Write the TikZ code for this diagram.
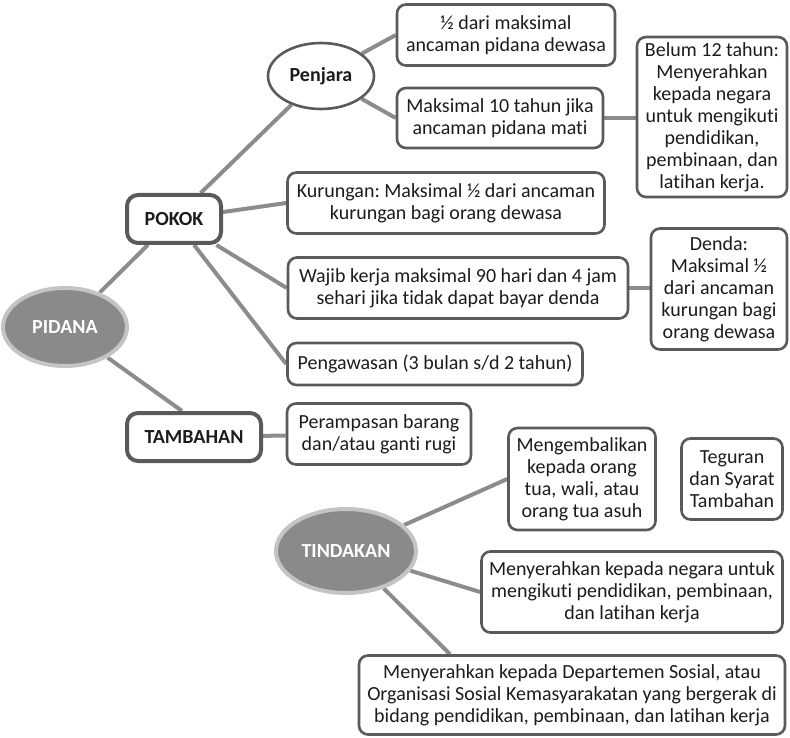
\documentclass[tikz,border=0pt]{standalone}
\usepackage{fontspec}
\setmainfont{Carlito}[Ligatures=CommonOff]
\usetikzlibrary{shapes.geometric,backgrounds}
\frenchspacing

\definecolor{edgegray}{HTML}{8C8C8C}
\definecolor{framegray}{HTML}{5A5A5A}
\definecolor{hubfill}{HTML}{8A8A8A}
\definecolor{hubring}{HTML}{C4C4C4}
\definecolor{ink}{HTML}{1C1C1C}

\tikzset{
  sz/.style 2 args={minimum width=#1pt, minimum height=#2pt},
  txt/.style={font=\fontsize{20}{22}\selectfont, text=ink, align=center},
  leaf/.style={txt, draw=framegray, line width=2.6pt, rounded corners=9pt,
    fill=white, inner sep=0pt},
  branch/.style={leaf, line width=4pt, rounded corners=11pt,
    font=\fontsize{20}{23}\selectfont\bfseries},
  hub/.style={ellipse, fill=hubfill, draw=hubring, line width=4pt,
    text=white, font=\fontsize{20}{23}\selectfont\bfseries, inner sep=0pt},
  subhub/.style={ellipse, fill=white, draw=framegray, line width=2.6pt,
    text=ink, font=\fontsize{20}{23}\selectfont\bfseries, inner sep=0pt},
  link/.style={draw=edgegray, line width=4pt},
}

\begin{document}
\begin{tikzpicture}[x=1pt, y=-1pt]
\useasboundingbox (0,0) rectangle (790,738);

% main categories
\node[hub, sz={124}{78}] (pidana) at (65,327) {PIDANA};
\node[branch, sz={94}{48}] (pokok) at (174,219) {POKOK};
\node[branch, sz={134}{48}] (tambahan) at (194,437) {TAMBAHAN};
\node[hub, sz={140}{84}] (tindakan) at (346,551) {TINDAKAN};

% pidana pokok
\node[subhub, sz={106}{66}] (penjara) at (321,76) {Penjara};
\node[leaf, sz={218}{61}] (half) at (506,35) {½ dari maksimal\\ancaman pidana dewasa};
\node[leaf, sz={206}{60}] (maks) at (500,118) {Maksimal 10 tahun jika\\ancaman pidana mati};
\node[leaf, sz={150}{160}] (belum) at (712,117) {Belum 12 tahun:\\Menyerahkan\\kepada negara\\untuk mengikuti\\pendidikan,\\pembinaan, dan\\latihan kerja.};
\node[leaf, sz={317}{61}] (kurungan) at (446,203) {Kurungan: Maksimal ½ dari ancaman\\kurungan bagi orang dewasa};
\node[leaf, sz={340}{61}] (wajib) at (458,288) {Wajib kerja maksimal 90 hari dan 4 jam\\sehari jika tidak dapat bayar denda};
\node[leaf, sz={136}{121}] (denda) at (719,289) {Denda:\\Maksimal ½\\dari ancaman\\kurungan bagi\\orang dewasa};
\node[leaf, sz={295}{42}] (awas) at (435,364) {Pengawasan (3 bulan s/d 2 tahun)};

% pidana tambahan
\node[leaf, sz={184}{61}] (rampas) at (379,434) {Perampasan barang\\dan/atau ganti rugi};

% tindakan
\node[leaf, sz={147}{102}] (kembali) at (582,479) {Mengembalikan\\kepada orang\\tua, wali, atau\\orang tua asuh};
\node[leaf, sz={101}{81}] (teguran) at (732,479) {Teguran\\dan Syarat\\Tambahan};
\node[leaf, sz={301}{81}] (negara) at (632,592) {Menyerahkan kepada negara untuk\\mengikuti pendidikan, pembinaan,\\dan latihan kerja};
\node[leaf, sz={426}{79}] (sosial) at (572,695) {Menyerahkan kepada Departemen Sosial, atau\\Organisasi Sosial Kemasyarakatan yang bergerak di\\bidang pendidikan, pembinaan, dan latihan kerja};

\begin{scope}[on background layer]
  \draw[link] (pidana) -- (pokok);
  \draw[link] (pidana) -- ([xshift=-12pt]tambahan.north);
  \draw[link] (pokok) -- (penjara);
  \draw[link] (pokok) -- (kurungan.west);
  \draw[link] (pokok) -- (wajib.west);
  \draw[link] (pokok) -- (awas.west);
  \draw[link] (penjara) -- (half.west);
  \draw[link] (penjara) -- (maks.west);
  \draw[link] (maks.east) -- (maks.east -| belum.west);
  \draw[link] (wajib.east) -- (wajib.east -| denda.west);
  \draw[link] (tambahan) -- (rampas);
  \draw[link] (tindakan) -- (kembali.west);
  \draw[link] (tindakan) -- (negara.west);
  \draw[link] (tindakan) -- ([xshift=-122pt]sosial.north);
\end{scope}
\end{tikzpicture}
\end{document}
